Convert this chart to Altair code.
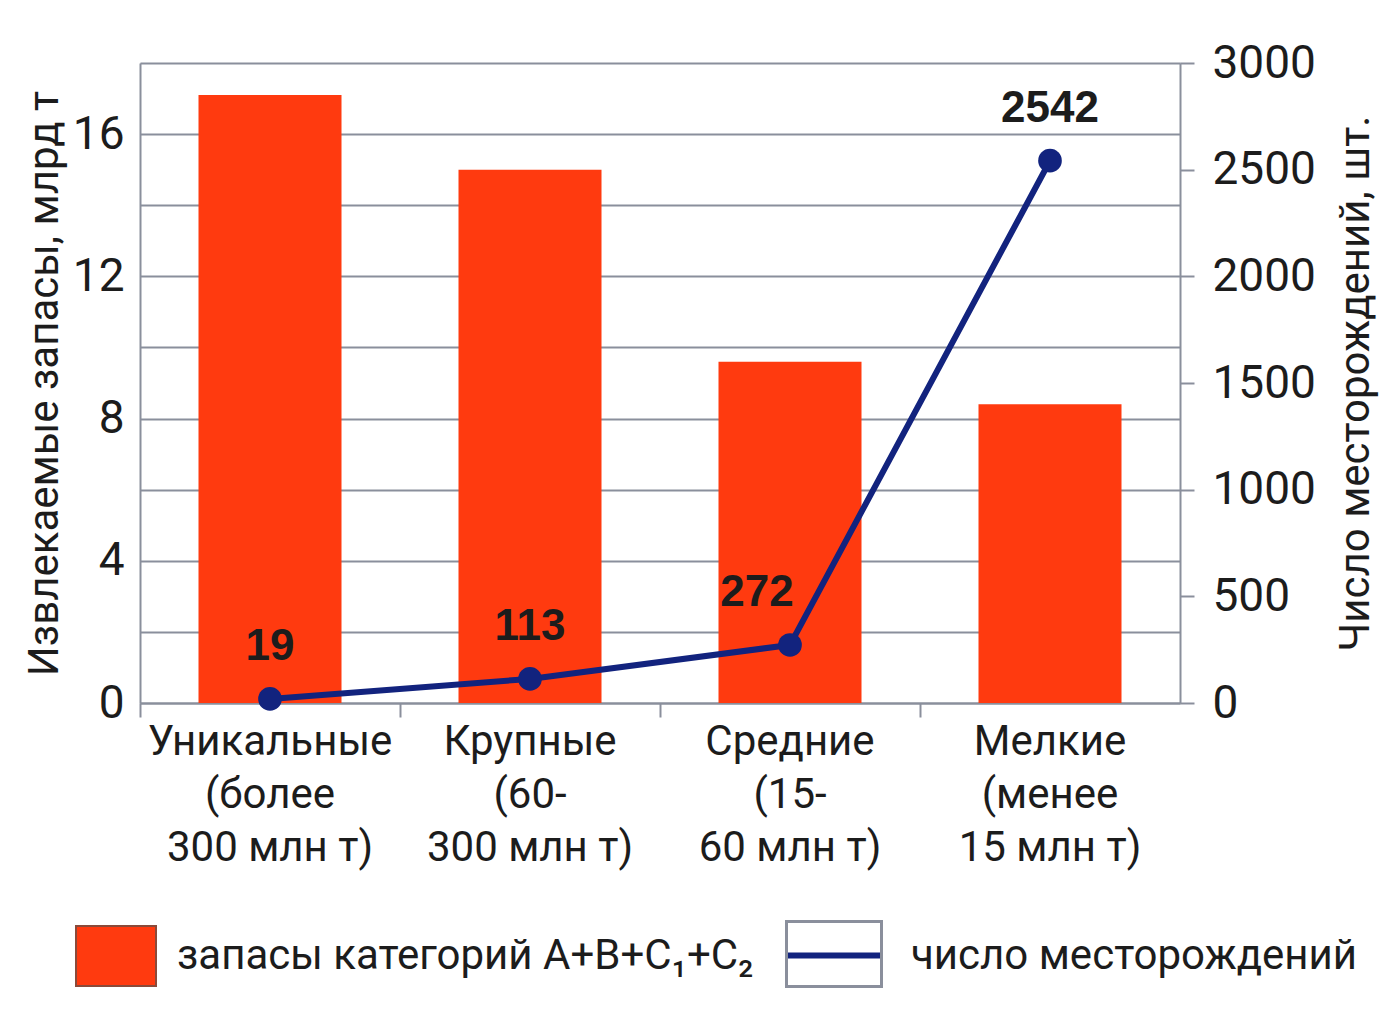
import altair as alt
import pandas as pd

categories = ["Уникальные|(более|300 млн т)", "Крупные|(60-|300 млн т)",
              "Средние|(15-|60 млн т)", "Мелкие|(менее|15 млн т)"]
reserves = [17.1, 15.0, 9.6, 8.4]          # млрд т
fields = [19, 113, 272, 2542]              # число месторождений
bar_series = "запасы категорий A+B+C₁+C₂"
line_series = "число месторождений"
box_series = line_series + "\u200b"        # frame of the line legend symbol

df = pd.DataFrame({
    "cat": categories,
    "reserves": reserves,
    "fields": fields,
    "bs": [bar_series] * 4,
    "ls": [line_series] * 4,
    "ls_box": [box_series] * 4,
})

FONT = "Roboto, sans-serif"
GRID = "#8a8f9c"
BAR = "#ff3a0f"
NAVY = "#12237e"
TXT = "#1c1c1c"

x = alt.X("cat:N", sort=categories, title=None,
          scale=alt.Scale(paddingInner=0, paddingOuter=0),
          axis=alt.Axis(labelExpr="split(datum.label, '|')", labelAngle=0,
                        bandPosition=0, tickSize=14, tickColor=GRID, tickWidth=2,
                        domainColor=GRID, domainWidth=2, labelPadding=4,
                        labelFontSize=42, labelLineHeight=53, labelFont=FONT,
                        labelColor=TXT, labelBaseline="top", labelLimit=600, grid=False))

bars = alt.Chart(df).mark_bar(width=alt.RelativeBandSize(0.55)).encode(
    x=x,
    y=alt.Y("reserves:Q", scale=alt.Scale(domain=[0, 18], nice=False),
            title="Извлекаемые запасы, млрд т",
            axis=alt.Axis(values=list(range(0, 19, 2)),
                          labelExpr="datum.value % 4 == 0 ? datum.label : ''",
                          grid=True, gridColor=GRID, gridWidth=2, gridOpacity=1,
                          ticks=False, domainColor=GRID, domainWidth=2,
                          labelPadding=16, labelFontSize=46, labelFont=FONT,
                          labelColor=TXT, titleFont=FONT, titleFontSize=42,
                          titleFontWeight="normal", titleColor=TXT, titlePadding=6)),
    fill=alt.Fill("bs:N", scale=alt.Scale(domain=[bar_series], range=[BAR]),
                  legend=alt.Legend(title=None, orient="none", legendX=-65, legendY=852,
                                    symbolType="M-1,-0.75H1V0.75H-1Z", symbolSize=6400,
                                    symbolStrokeColor="#8a4a3a", symbolStrokeWidth=2,
                                    labelFont=FONT, labelFontSize=42, labelColor=TXT,
                                    labelLimit=700, labelOffset=20, padding=0)),
)

y_right = alt.Y("fields:Q", scale=alt.Scale(domain=[0, 3000], nice=False),
                title="Число месторождений, шт.",
                axis=alt.Axis(orient="right", values=list(range(0, 3001, 500)),
                              format="d",
                              grid=False, tickSize=14, tickColor=GRID, tickWidth=2,
                              domainColor=GRID, domainWidth=2, labelPadding=18,
                              labelFontSize=46, labelFont=FONT, labelColor=TXT,
                              titleFont=FONT, titleFontSize=42, titleFontWeight="normal",
                              titleColor=TXT, titleAngle=270, titleBaseline="top",
                              titlePadding=20))

points = alt.Chart(df).mark_circle(size=560).encode(
    x=x, y=y_right,
    fill=alt.Fill("ls_box:N", scale=alt.Scale(domain=[box_series], range=[NAVY]),
                  legend=None),
    opacity=alt.Opacity("ls_box:N", scale=alt.Scale(domain=[box_series], range=[1]),
                        legend=alt.Legend(title=None, orient="none", legendX=645, legendY=842,
                                          symbolType="M-1,-0.684H1V0.684H-1Z",
                                          symbolSize=9025,
                                          symbolFillColor="transparent",
                                          symbolStrokeColor=GRID, symbolStrokeWidth=3,
                                          labelExpr="''",
                                          labelFont=FONT, labelFontSize=42,
                                          labelColor=TXT, labelOpacity=0,
                                          labelLimit=700, labelOffset=25, padding=0)),
)

line = alt.Chart(df).mark_line(strokeWidth=6).encode(
    x=x, y=y_right,
    stroke=alt.Stroke("ls:N", scale=alt.Scale(domain=[line_series], range=[NAVY]),
                      legend=alt.Legend(title=None, orient="none", legendX=645, legendY=842,
                                        symbolType="stroke", symbolSize=9025,
                                        symbolStrokeWidth=6,
                                        labelFont=FONT, labelFontSize=42, labelColor=TXT,
                                        labelLimit=700, labelOffset=25, padding=0)),
)

labels = alt.Chart(df).transform_filter("datum.fields != 272").mark_text(
    font="Liberation Sans, Arial, sans-serif", fontWeight="bold", fontSize=44,
    color=TXT, dy=-30, baseline="bottom"
).encode(x=x, y=y_right, text=alt.Text("fields:Q", format="d"))

label272 = alt.Chart(df).transform_filter("datum.fields == 272").mark_text(
    font="Liberation Sans, Arial, sans-serif", fontWeight="bold", fontSize=44,
    color=TXT, dy=-30, dx=-33, baseline="bottom"
).encode(x=x, y=y_right, text=alt.Text("fields:Q", format="d"))

right = alt.layer(line, points, labels, label272)

chart = alt.layer(bars, right).resolve_scale(
    y="independent", fill="independent"
).properties(
    width=1040, height=640,
    autosize=alt.AutoSizeParams(type="none"),
    padding={"left": 132, "top": 55, "right": 212, "bottom": 300},
).configure_view(stroke=GRID, strokeWidth=2).configure(background="white")

chart.save("out.html", embed_options={"renderer": "svg", "actions": False})
